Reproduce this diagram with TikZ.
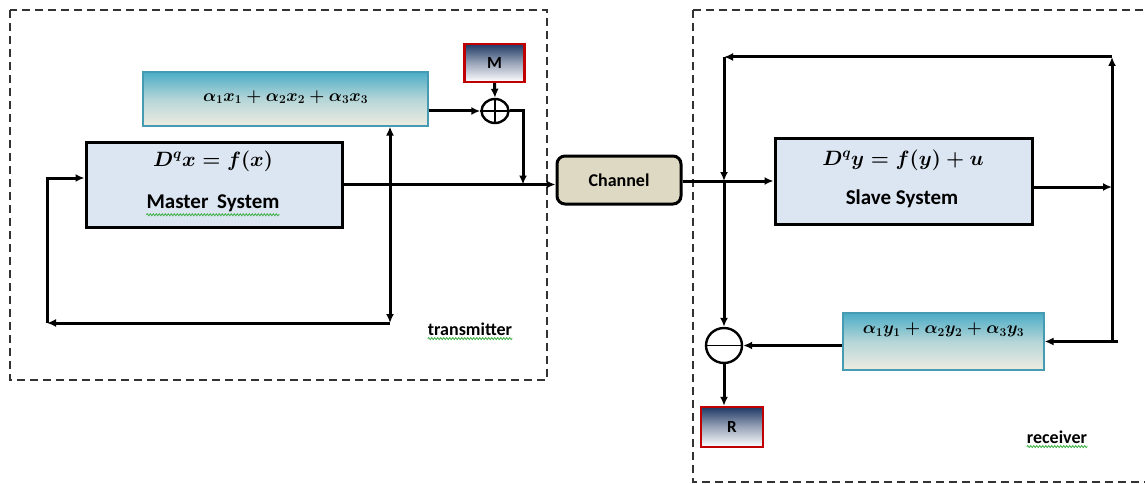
\documentclass[tikz,border=0pt]{standalone}
\usepackage{amsmath}
\usepackage{fontspec}
\setmainfont{Carlito}
\usetikzlibrary{arrows.meta,decorations.pathmorphing,shapes.geometric}
\definecolor{sysfill}{HTML}{DCE6F2}
\definecolor{chfill}{HTML}{DDD9C3}
\definecolor{tealb}{HTML}{4BACC6}
\definecolor{pale}{HTML}{EEECE1}
\definecolor{navyb}{HTML}{1F3864}
\definecolor{redb}{HTML}{C00000}
\definecolor{wavy}{HTML}{3CB043}
\tikzset{
  sysbox/.style={draw, line width=3pt, fill=sysfill, inner sep=0pt},
  gradbox/.style={draw=tealb!90!black, line width=1.2pt, top color=tealb, bottom color=pale, middle color=tealb!35!pale, inner sep=0pt},
  msgbox/.style={draw=redb, line width=2.4pt, top color=navyb, bottom color=white, middle color=navyb!45!white, inner sep=0pt, font=\fontsize{17}{20}\selectfont\bfseries},
  chbox/.style={draw, line width=3pt, fill=chfill, rounded corners=8pt, inner sep=0pt, font=\fontsize{18}{21}\selectfont\bfseries},
  sumnode/.style={draw, ellipse, line width=2.4pt, fill=white, inner sep=0pt},
  conn/.style={line width=3pt, -{Latex[length=9pt,width=8pt]}},
  dashbox/.style={line width=1.1pt, dash pattern=on 8pt off 5pt, gray!40!black},
  lbl/.style={inner sep=0pt, font=\fontsize{18}{21}\selectfont\bfseries},
  eqbig/.style={inner sep=0pt, font=\fontsize{19.5}{22}\selectfont},
  eqsmall/.style={inner sep=0pt, font=\fontsize{17.5}{20}\selectfont},
  namelbl/.style={inner sep=0pt, font=\fontsize{21}{24}\selectfont\bfseries},
  squig/.style={draw=wavy, line width=0.8pt, decorate, decoration={snake, amplitude=1pt, segment length=3pt}}
}
\begin{document}
\begin{tikzpicture}[x=1pt,y=-1pt]
\useasboundingbox (0,0) rectangle (1145,484);
% dashed regions
\draw[dashbox] (10,10) rectangle (547,380);
\draw[dashbox] (693,10) -- (1150,10) (693,10) -- (693,482) -- (1150,482);

% transmitter blocks
\node[sysbox, minimum width=256pt, minimum height=85pt] (master) at (214,184.5) {};
\node[eqbig] (mastereq) at (213,161) {$\boldsymbol{D^q x = f(x)}$};
\node[namelbl] (mastername) at (213,203) {Master\hspace{4pt} System};
\node[gradbox, minimum width=285pt, minimum height=54pt] (alx) at (285.5,99) {};
\node[eqsmall] (alxeq) at (285.5,97) {$\boldsymbol{\alpha_1x_1+\alpha_2x_2+\alpha_3x_3}$};
\node[msgbox, minimum width=60pt, minimum height=38pt] (M) at (494.5,63) {M};
\node[sumnode, minimum width=27pt, minimum height=24pt] (oplus) at (495,111) {};
\draw[line width=2pt] (oplus.west) -- (oplus.east) (oplus.north) -- (oplus.south);

% channel
\node[chbox, minimum width=124pt, minimum height=48pt] (channel) at (619,180) {Channel};

% receiver blocks
\node[sysbox, minimum width=257pt, minimum height=86pt] (slave) at (903.5,181) {};
\node[eqbig] (slaveeq) at (903,160) {$\boldsymbol{D^q y = f(y)+u}$};
\node[namelbl] (slavename) at (902,199) {Slave System};
\node[gradbox, minimum width=201pt, minimum height=57pt] (aly) at (943.5,341.5) {};
\node[eqsmall] (alyeq) at (943.5,330) {$\boldsymbol{\alpha_1y_1+\alpha_2y_2+\alpha_3y_3}$};
\node[sumnode, minimum width=36pt, minimum height=35pt] (minus) at (724,345.5) {};
\draw[line width=1.6pt] (minus.west) -- (minus.east);
\node[msgbox, minimum width=62pt, minimum height=40pt] (R) at (732,427) {R};

% labels
\node[lbl] (tx) at (470,329) {transmitter};
\node[lbl] (rx) at (1057,437) {receiver};
\draw[squig] ([yshift=-3pt]tx.south west) -- ([yshift=-3pt]tx.south east);
\draw[squig] ([yshift=-3pt]rx.south west) -- ([yshift=-3pt]rx.south east);
\draw[squig] ([yshift=-3pt]mastername.south west) -- ([yshift=-3pt]mastername.south east);

% transmitter connectors
\coordinate (tb) at (390,323);
\coordinate (tl) at (47,323);
\coordinate (tlu) at (47,178);
\coordinate (mj) at (523,111);
\draw[conn] (master.east) -- (master.east -| channel.west);
\draw[conn, {Latex[length=9pt,width=8pt]}-{Latex[length=9pt,width=8pt]}] (tb |- alx.south) -- (tb);
\draw[conn] (tb) -- (tl);
\draw[conn] (tl) -- (tlu) -- (tlu -| master.west);
\draw[conn] (alx.east |- oplus) -- (oplus.west);
\draw[conn] (M.south) -- (oplus.north);
\draw[conn] (oplus.east) -- (mj) -- (mj |- master.east);

% receiver connectors
\coordinate (rv) at (1112,341.5);
\coordinate (rb) at (1118,341.5);
\coordinate (rt) at (1112,57);
\coordinate (lt) at (724,57);
\coordinate (lj) at (724,181);
\draw[conn] (channel.east |- lj) -- (slave.west);
\draw[conn] ([yshift=-6pt]slave.east) -- ([yshift=-6pt]slave.east -| rv);
\draw[conn] (rb) -- (aly.east);
\draw[conn] (rv) -- (rt);
\draw[conn] (rt) -- (lt);
\draw[conn] (lt) -- (lj);
\draw[conn] (lj) -- (minus.north);
\draw[conn] (aly.west |- minus.east) -- (minus.east);
\draw[conn] (minus.south) -- (minus.south |- R.north);
\end{tikzpicture}
\end{document}
